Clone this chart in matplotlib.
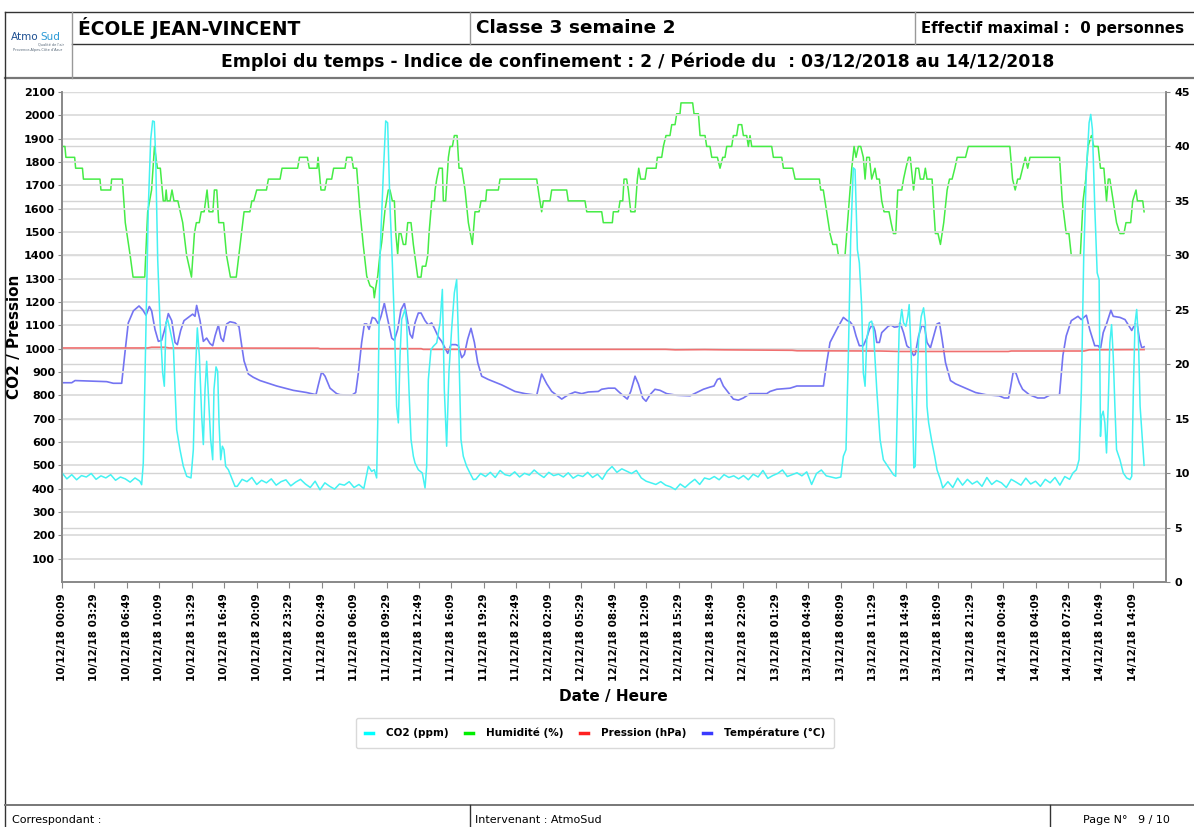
import matplotlib.pyplot as plt
from matplotlib.lines import Line2D

# --- data (time in hours since 10/12/18 00:09) ---
co2_t = [0, 0.5, 1, 1.5, 2, 2.5, 3, 3.5, 4, 4.5, 5, 5.5, 6, 6.5, 7, 7.5, 8,
         8.18, 8.35, 8.63, 8.87, 9.11, 9.31, 9.48, 9.62, 9.83, 10.07, 10.34, 10.51, 10.68, 10.85,
         11.09, 11.44, 11.61, 11.78, 12.12, 12.46, 12.81, 13.25, 13.49, 13.66, 13.9, 14.11, 14.35,
         14.52, 14.69, 14.86, 15.1, 15.27, 15.48, 15.61, 15.82, 15.99, 16.13, 16.3, 16.47, 16.64,
         16.81, 17.09, 17.43, 17.77,
         18, 18.5, 19, 19.5, 20, 20.5, 21, 21.5, 22, 22.5, 23, 23.5, 24, 24.5, 25, 25.5, 26, 26.5,
         27, 27.5, 28, 28.5, 29, 29.5, 30, 30.5, 31,
         31.47, 31.81, 32.08, 32.32, 32.43, 32.66, 33.01, 33.25, 33.45, 33.69, 33.93, 34.14, 34.37,
         34.55, 34.72, 34.89, 35.23, 35.4, 35.64, 35.85, 36.09, 36.26, 36.6, 37.01, 37.29, 37.46,
         37.63, 37.9, 38.14, 38.49, 38.83, 39.07, 39.27, 39.51, 39.75, 40.02, 40.3, 40.54, 40.78,
         40.98, 41.22, 41.56, 41.9, 42.25,
         42.5, 43, 43.5, 44, 44.5, 45, 45.5, 46, 46.5, 47, 47.5, 48, 48.5, 49, 49.5, 50, 50.5, 51,
         51.5, 52, 52.5, 53, 53.5, 54, 54.5, 55, 55.5, 56, 56.5, 57, 57.5, 58, 58.5, 59, 59.5, 60,
         60.5, 61, 61.5, 62, 62.5, 63, 63.5, 64, 64.5, 65, 65.5, 66, 66.5, 67, 67.5, 68, 68.5, 69,
         69.5, 70, 70.5, 71, 71.5, 72, 72.5, 73, 73.5, 74, 74.5, 75, 75.5, 76, 76.5, 77, 77.5, 78,
         78.5, 79, 79.5, 80,
         80.26, 80.53, 80.77, 81.01, 81.28, 81.46, 81.7, 81.9, 82.14, 82.31, 82.49, 82.66, 82.93,
         83.17, 83.34, 83.69, 84.03, 84.37, 84.71, 85.06, 85.4, 85.64, 85.85, 85.99, 86.26, 86.44,
         86.68, 86.88, 87.02, 87.23, 87.4, 87.5, 87.64, 87.81, 87.99, 88.26, 88.5, 88.68, 88.85,
         89.02, 89.37, 89.64, 89.88, 90.23, 90.47,
         91, 91.5, 92, 92.5, 93, 93.5, 94, 94.5, 95, 95.5, 96, 96.5, 97, 97.5, 98, 98.5, 99, 99.5,
         100, 100.5, 101, 101.5, 102, 102.5, 103, 103.5,
         103.84, 104.19, 104.47, 104.71, 104.95, 105.22, 105.5, 105.67, 105.84, 106.08, 106.33,
         106.53, 106.67, 106.77, 106.95, 107.12, 107.29, 107.46, 107.63, 107.81, 107.98, 108.15,
         108.32, 108.67, 109.01, 109.36, 109.7, 109.88, 110.05, 110.22, 110.39, 110.57, 110.74,
         111.01, 111.15]
co2_v = [468, 442, 460, 438, 456, 450, 465, 440, 455, 446, 460, 436, 450, 442, 428, 446, 432,
         417, 510, 1111, 1611, 1897, 1976, 1973, 1825, 1382, 1111, 896, 839, 1111, 1125,
         1082, 1010, 825, 653, 567, 496, 453, 446, 567, 853, 1089, 968, 710,
         589, 825, 946, 753, 611, 524, 825, 922, 903, 682, 524, 582, 567,
         496, 481, 446, 410,
         410, 440, 430, 448, 418, 436, 425, 442, 415, 430, 438, 412, 428, 440, 420, 405, 432, 395,
         425, 410, 398, 420, 415, 430, 405, 418, 400,
         496, 474, 481, 446, 682, 1396, 1754, 1976, 1968, 1611, 1368, 1111, 753,
         682, 968, 1125, 1168, 1111, 825, 611, 539, 510, 481, 467, 403, 496,
         868, 996, 1010, 1025, 1111, 1254, 825, 582, 903, 1082, 1239, 1296, 968,
         611, 539, 496, 467, 439,
         440, 465, 452, 470, 448, 478, 460, 455, 472, 450, 466, 458, 480, 462, 448, 470, 456, 462,
         450, 468, 445, 458, 452, 470, 448, 462, 440, 475, 495, 470, 485, 475, 465, 478, 446, 432,
         425, 418, 430, 415, 408, 396, 420, 405, 424, 440, 418, 446, 440, 452, 438, 460, 448, 455,
         442, 456, 438, 462, 450, 478, 444, 456, 465, 480, 452, 460, 468, 455, 472, 418, 465, 480,
         455, 450, 445, 450,
         539, 567, 968, 1468, 1775, 1768, 1425, 1368, 1182, 896, 839, 1039, 1111,
         1118, 1082, 825, 611, 524, 503, 481, 460, 453, 825, 1082, 1168, 1111,
         1096, 1139, 1189, 968, 682, 489, 496, 825, 1039, 1139, 1175, 1111, 753,
         682, 596, 539, 481, 439, 403,
         430, 405, 445, 415, 440, 420, 432, 410, 448, 418, 435, 425, 405, 440, 428, 415, 445, 420,
         432, 410, 440, 425, 448, 415, 452, 440,
         467, 481, 524, 825, 1397, 1754, 1968, 2004, 1940, 1611, 1325,
         1296, 624, 710, 732, 682, 553, 753, 1025, 1103, 968, 753,
         567, 524, 467, 446, 439, 453, 825, 1111, 1168, 1039, 753,
         582, 500]

hum_t = [0, 0.3, 0.4, 1.3, 1.4, 2.1, 2.2, 3.9, 4.0, 5.0, 5.1, 6.2, 6.5, 7.0, 7.3, 8.5, 8.8, 9.2,
         9.5, 9.8, 10.1, 10.4, 10.6, 10.7, 10.8, 11.1, 11.3, 11.5, 11.9, 12.4, 12.8, 13.3, 13.6,
         13.8, 14.1, 14.3, 14.6, 14.9, 15.1, 15.5, 15.65, 15.9, 16.1, 16.6, 16.9, 17.3, 17.9, 18.3,
         18.7, 19.3, 19.5, 19.7, 20.0, 21.0, 21.2, 22.4, 22.6, 24.2, 24.4, 25.2, 25.4, 26.2, 26.3,
         26.6, 27.0, 27.2, 27.7, 27.9, 29.07, 29.24, 29.76, 29.93, 30.27, 30.61, 30.95, 31.3,
         31.64, 31.98, 32.08, 32.22, 32.43, 32.67, 32.84, 33.18, 33.52, 33.69, 33.93, 34.14, 34.28,
         34.48, 34.62, 34.82, 35.06, 35.3, 35.51, 35.85, 36.09, 36.54, 36.88, 37.01, 37.36, 37.57,
         37.7, 37.98, 38.25, 38.32, 38.49, 38.73, 39.07, 39.17, 39.41, 39.69, 39.86, 40.1, 40.3,
         40.58, 40.78, 41.06, 41.4, 41.74, 42.15, 42.42, 42.84, 43.04, 43.52, 43.62, 44.82, 44.99,
         48.76, 49.0, 49.27, 49.44, 50.13, 50.3, 51.84, 52.0, 53.72, 53.9, 55.44, 55.6, 56.53,
         56.63, 57.15, 57.32, 57.6, 57.73, 58.0, 58.17, 58.42, 58.86, 59.1, 59.24, 59.44, 59.89,
         60.06, 61.02, 61.15, 61.6, 61.77, 62.04, 62.45, 62.63, 62.97, 63.14, 63.48, 63.58, 64.78,
         64.92, 65.37, 65.54, 66.05, 66.22, 66.56, 66.74, 67.32, 67.59, 67.87, 68.1, 68.28, 68.79,
         68.96, 69.3, 69.47, 69.82, 69.99, 70.33, 70.5, 70.67, 70.85, 72.9, 73.07, 73.93, 74.1,
         75.06, 75.3, 77.8, 77.93, 78.2, 78.55, 78.89, 79.17, 79.58, 79.75, 80.43, 80.77, 81.12,
         81.36, 81.56, 81.8, 82.04, 82.31, 82.49, 82.66, 82.93, 83.17, 83.51, 83.69, 83.96, 84.2,
         84.44, 84.95, 85.16, 85.4, 85.64, 85.85, 86.26, 86.44, 86.68, 86.95, 87.13, 87.47, 87.71,
         87.99, 88.16, 88.5, 88.68, 88.85, 89.37, 89.71, 89.98, 90.23, 90.57, 90.92, 91.16, 91.43,
         91.71, 91.95, 92.81, 93.09, 97.36, 97.64, 97.91, 98.16, 98.4, 98.68, 98.95, 99.19, 99.43,
         102.47, 102.74, 103.15, 103.43, 103.67, 104.6, 104.88, 105.16, 105.39, 105.74, 105.98,
         106.43, 106.67, 107.02, 107.29, 107.47, 107.63, 107.98, 108.32, 108.67, 109.08, 109.29,
         109.77, 109.98, 110.32, 110.46, 111.01, 111.15]
hum_v = [40, 40, 39, 39, 38, 38, 37, 37, 36, 36, 37, 37, 33, 30, 28, 28, 34, 36,
         40, 38, 38, 35, 35, 36, 35, 35, 36, 35, 35, 33, 30, 28, 32,
         33, 33, 34, 34, 36, 34, 34, 36, 36, 33, 33, 30, 28, 28, 31,
         34, 34, 35, 35, 36, 36, 37, 37, 38, 38, 39, 39, 38, 38, 39,
         36, 36, 37, 37, 38, 38, 39, 39, 38, 38, 34, 30.9, 28.1,
         27.2, 27, 26.1, 27, 28.1, 30.2, 31.2, 34.2, 36, 36, 35, 35, 32.1,
         30.1, 32, 32, 31, 31, 33, 33, 31, 28, 28, 29, 29, 30,
         32, 35, 35, 36, 37, 38, 38, 35, 35, 39, 40, 40, 41,
         41, 38, 38, 36, 33, 31, 34, 34, 35, 35, 36, 36, 37,
         37, 35.5, 34, 35, 35, 36, 36, 35, 35, 34, 34, 33, 33,
         34, 34, 35, 35, 37, 37, 36, 34, 34, 37, 38, 37, 37,
         38, 38, 39, 39, 40, 41, 41, 42, 42, 43, 43, 44, 44,
         43, 43, 41, 41, 40, 40, 39, 39, 38, 39, 39, 40, 40,
         41, 41, 42, 42, 41, 41, 40, 41, 40, 40, 39, 39, 38,
         38, 37, 37, 36, 36, 34, 32, 31, 31, 30, 30, 34, 38,
         40, 39, 40, 40, 39, 37, 39, 39, 37, 38, 37, 37, 35,
         34, 34, 33, 32, 32, 36, 36, 37, 38, 39, 39, 36, 38,
         38, 37, 37, 38, 37, 37, 32, 32, 31, 33, 36, 37, 37,
         38, 39, 39, 40, 40, 37, 36, 37, 37, 38, 39, 38, 39,
         39, 35, 32, 32, 30, 30, 35, 37, 40, 41, 40,
         40, 38, 38, 35, 37, 37, 35, 33, 32, 32, 33,
         33, 35, 36, 35, 35, 34]

pres_t = [0, 8.8, 9.2, 10.6, 11, 26.3, 26.5, 36.9, 37.1, 62, 63, 66, 68, 75, 75.5, 84, 86,
          97.2, 97.5, 105, 105.5, 111.15]
pres_v = [1003, 1003, 1006, 1006, 1003, 1002, 1000, 1000, 997, 997, 995, 996, 995, 993, 991,
          990, 988, 988, 990, 990, 995, 996]

temp_t = [0, 1.0, 1.34, 4.59, 5.27, 6.13, 6.47, 6.81, 7.33, 7.91, 8.29, 8.63, 8.97, 9.21, 9.55,
          9.9, 10.24, 10.58, 10.92, 11.27, 11.61, 11.85, 12.19, 12.53, 12.98, 13.42, 13.66, 13.83,
          14.18, 14.52, 14.86, 15.2, 15.48, 15.72, 16.06, 16.33, 16.57, 16.92, 17.26, 17.77, 18.18,
          18.46, 18.7, 19.14, 19.65, 20.34, 22.05, 23.76, 25.13, 26.09, 26.33, 26.67, 27.02, 27.53,
          28.21, 28.56, 29.76, 30.17, 30.44, 30.78, 31.06, 31.3, 31.54, 31.87, 32.15, 32.49, 32.77,
          33.11, 33.46, 33.87, 34.14, 34.48, 34.82, 35.17, 35.41, 35.75, 35.99, 36.26, 36.6, 36.88,
          37.29, 37.63, 37.97, 38.25, 38.66, 39.0, 39.34, 39.62, 39.96, 40.44, 40.71, 41.06, 41.33,
          41.67, 42.01, 42.36, 42.7, 43.11, 43.79, 45.17, 46.53, 47.56, 48.76, 49.27, 49.79, 50.3,
          50.81, 51.33, 52.01, 52.69, 53.38, 54.06, 55.09, 55.43, 56.12, 56.8, 57.15, 57.66, 58.07,
          58.42, 58.86, 59.2, 59.65, 59.99, 60.4, 60.91, 61.43, 62.11, 63.14, 64.51, 65.19, 65.88,
          66.56, 66.97, 67.32, 67.59, 67.93, 68.45, 68.96, 69.47, 69.99, 70.67, 72.39, 72.73, 73.42,
          74.79, 75.48, 78.21, 78.55, 78.89, 79.58, 80.26, 80.67, 80.94, 81.29, 81.56, 81.9, 82.31,
          82.66, 82.93, 83.27, 83.51, 83.69, 83.96, 84.2, 84.54, 84.88, 85.16, 85.5, 85.85, 86.09,
          86.44, 86.78, 87.13, 87.47, 87.64, 87.99, 88.33, 88.61, 88.85, 89.2, 89.54, 89.88, 90.13,
          90.4, 90.75, 91.26, 91.78, 92.81, 93.84, 94.88, 96.26, 96.78, 97.23, 97.46, 97.71, 97.98,
          98.33, 98.67, 99.36, 100.22, 100.91, 101.43, 102.46, 102.81, 103.15, 103.67, 104.36,
          104.7, 105.22, 105.56, 106.08, 106.43, 106.67, 106.95, 107.29, 107.74, 107.98, 108.67,
          109.19, 109.88, 110.22, 110.46, 110.67, 110.91, 111.15]
temp_v = [18.3, 18.3, 18.5, 18.4, 18.25, 18.25, 21.1, 23.8, 24.9, 25.35, 25.0, 24.5, 25.3, 24.9,
          23.2, 22.1, 22.2, 23.3, 24.65, 24.0, 22.0, 21.8, 23.1, 24.0, 24.3, 24.6, 24.4, 25.4,
          24.0, 22.1, 22.4, 21.9, 21.7, 22.6, 23.6, 22.4, 22.1, 23.7, 23.9, 23.8, 23.45,
          21.7, 20.3, 19.1, 18.8, 18.5, 18.0, 17.6, 17.4, 17.2, 18.1, 19.3, 18.9, 17.8,
          17.3, 17.2, 17.15, 17.4, 19.2, 22.0, 23.7, 23.7, 23.2, 24.3, 24.2, 23.7, 24.4,
          25.6, 24.1, 22.4, 22.2, 23.2, 25.0, 25.6, 24.4, 22.75, 22.4, 23.8, 24.7, 24.7,
          24.0, 23.6, 23.8, 23.3, 22.5, 22.1, 21.5, 21.0, 21.8, 21.8, 21.7, 20.6, 20.9,
          22.3, 23.3, 22.0, 20.15, 18.9, 18.6, 18.1, 17.5, 17.3, 17.15, 19.1, 18.2, 17.5,
          17.15, 16.8, 17.2, 17.45, 17.3, 17.45, 17.5, 17.7, 17.8, 17.8, 17.5, 17.1, 16.8,
          17.5, 18.9, 18.2, 16.9, 16.6, 17.2, 17.7, 17.6, 17.3, 17.15, 17.1, 17.4, 17.7,
          17.9, 18.0, 18.6, 18.7, 18.0, 17.4, 16.8, 16.7, 16.9, 17.3, 17.3, 17.5, 17.7,
          17.8, 18.0, 18.0, 20.15, 22.0, 23.2, 24.3, 24.0, 23.9, 23.5, 22.6, 21.7, 21.7,
          22.4, 23.2, 23.7, 23.05, 22.0, 22.0, 22.9, 23.2, 23.5, 23.6, 23.4, 23.45, 23.8,
          22.9, 21.7, 21.4, 20.8, 20.9, 22.6, 23.6, 23.4, 22.0, 21.5, 22.6, 23.7, 23.8,
          22.3, 20.15, 18.5, 18.2, 17.8, 17.4, 17.2, 17.1, 16.9, 16.9, 18.0, 19.3, 19.2,
          18.3, 17.7, 17.2, 16.9, 16.9, 17.15, 17.2, 20.8, 22.6, 24.0, 24.4,
          24.1, 24.5, 23.2, 21.7, 21.7, 21.4, 22.9, 23.7, 24.95, 24.4, 24.3,
          24.1, 23.1, 23.7, 23.6, 22.3, 21.5, 21.6]

x_labels = ["10/12/18 00:09", "10/12/18 03:29", "10/12/18 06:49", "10/12/18 10:09",
            "10/12/18 13:29", "10/12/18 16:49", "10/12/18 20:09", "10/12/18 23:29",
            "11/12/18 02:49", "11/12/18 06:09", "11/12/18 09:29", "11/12/18 12:49",
            "11/12/18 16:09", "11/12/18 19:29", "11/12/18 22:49", "12/12/18 02:09",
            "12/12/18 05:29", "12/12/18 08:49", "12/12/18 12:09", "12/12/18 15:29",
            "12/12/18 18:49", "12/12/18 22:09", "13/12/18 01:29", "13/12/18 04:49",
            "13/12/18 08:09", "13/12/18 11:29", "13/12/18 14:49", "13/12/18 18:09",
            "13/12/18 21:29", "14/12/18 00:49", "14/12/18 04:09", "14/12/18 07:29",
            "14/12/18 10:49", "14/12/18 14:09"]

series_names = ["CO2 (ppm)", "Humidité (%)", "Pression (hPa)", "Température (°C)"]

W, H = 1194, 827
fig = plt.figure(figsize=(W / 100, H / 100), dpi=100)
fig.patch.set_facecolor("white")


def px(x, y):
    return x / W, 1 - y / H


def hline(y, x0, x1, color="#333333", lw=1.0):
    fig.add_artist(Line2D([x0 / W, x1 / W], [1 - y / H, 1 - y / H], color=color, lw=lw))


def vline(x, y0, y1, color="#333333", lw=1.0):
    fig.add_artist(Line2D([x / W, x / W], [1 - y0 / H, 1 - y1 / H], color=color, lw=lw))


# --- main axes ---
ax = fig.add_axes([62 / W, 1 - 582 / H, (1166 - 62) / W, (582 - 92) / H])
ax2 = ax.twinx()
ax.set_zorder(ax2.get_zorder() + 1)
ax.patch.set_visible(False)

ax2.plot(hum_t, hum_v, color="#46ec46", lw=1.1)
ax2.plot(temp_t, temp_v, color="#7474f2", lw=1.2)
ax.plot(pres_t, pres_v, color="#f07070", lw=1.2)
ax.plot(co2_t, co2_v, color="#44f2f2", lw=1.1)

ax.set_xlim(0, 113.4)
ax.set_ylim(0, 2100)
ax2.set_ylim(0, 45)

ax.set_yticks(range(100, 2101, 100))
ax.set_yticklabels([str(v) for v in range(100, 2101, 100)])
ax2.set_yticks(range(0, 46, 5))
ax2.set_yticklabels([str(v) for v in range(0, 46, 5)])

ax.set_xticks([i * 200 / 60 for i in range(len(x_labels))])
ax.set_xticklabels(x_labels, rotation=90, fontsize=7.5, fontweight="bold")

ax.grid(axis="y", color="#dcdcdc", lw=1.3)
ax2.grid(axis="y", color="#d4d4d4", lw=1.0)

ax.tick_params(axis="y", labelsize=8, length=3, color="#888888", pad=2)
ax2.tick_params(axis="y", labelsize=8, length=3, color="#888888", pad=3)
ax.tick_params(axis="x", length=4, color="#888888", pad=4)
for lab in ax.get_yticklabels() + ax2.get_yticklabels():
    lab.set_fontweight("bold")

for a in (ax, ax2):
    a.spines["top"].set_visible(False)
    for s in ("left", "right", "bottom"):
        a.spines[s].set_color("#888888")
        a.spines[s].set_linewidth(1.2)

fig.text(*px(15, 337), "CO2 / Pression", rotation=90, ha="center", va="center",
         fontsize=11, fontweight="bold")
fig.text(*px(613, 697), "Date / Heure", ha="center", va="center",
         fontsize=11, fontweight="bold")

# legend
handles = [Line2D([], [], color=c, lw=2.5) for c in ("#00ffff", "#00ee00", "#ff2020", "#3a3aff")]
leg = fig.legend(handles, series_names, loc="center", bbox_to_anchor=px(595, 733), ncol=4,
                 frameon=True, fancybox=True, edgecolor="#d0d0d0", handlelength=0.8,
                 handletextpad=1.2, columnspacing=1.6, borderpad=0.9,
                 prop={"weight": "bold", "size": 7.5})
leg.get_frame().set_linewidth(1.0)

# --- header / footer frame ---
hline(12, 5, 1194)
hline(44, 72, 1194)
hline(78, 5, 1194, color="#777777", lw=1.6)
vline(5, 12, 827)
vline(72, 12, 78, color="#999999")
vline(470, 12, 44, color="#999999")
vline(915, 12, 44, color="#999999")
hline(805, 5, 1194, color="#777777", lw=1.4)
vline(470, 805, 827)
vline(1050, 805, 827)

fig.text(*px(78, 28), "ÉCOLE JEAN-VINCENT", ha="left", va="center", fontsize=13.5, fontweight="bold")
fig.text(*px(476, 28), "Classe 3 semaine 2", ha="left", va="center", fontsize=13.3, fontweight="bold")
fig.text(*px(921, 28), "Effectif maximal :  0 personnes", ha="left", va="center",
         fontsize=10.8, fontweight="bold")
fig.text(*px(638, 62), "Emploi du temps - Indice de confinement : 2 / Période du  : 03/12/2018 au 14/12/2018",
         ha="center", va="center", fontsize=12.4, fontweight="bold")

# logo
fig.text(*px(11, 37), "Atmo", ha="left", va="center", fontsize=7.5, color="#1d4f91")
fig.text(*px(40, 37), "Sud", ha="left", va="center", fontsize=7.5, color="#2c9ad6")
fig.text(*px(64, 44), "Qualité de l'air", ha="right", va="center", fontsize=2.5, color="#556677")
fig.text(*px(38, 50), "Provence-Alpes-Côte d'Azur", ha="center", va="center", fontsize=2.5,
         color="#556677")

fig.text(*px(12, 820), "Correspondant :", ha="left", va="center", fontsize=8)
fig.text(*px(475, 820), "Intervenant : AtmoSud", ha="left", va="center", fontsize=8)
fig.text(*px(1083, 820), "Page N°   9 / 10", ha="left", va="center", fontsize=8)

fig.savefig("out.png", dpi=100, facecolor="white")
